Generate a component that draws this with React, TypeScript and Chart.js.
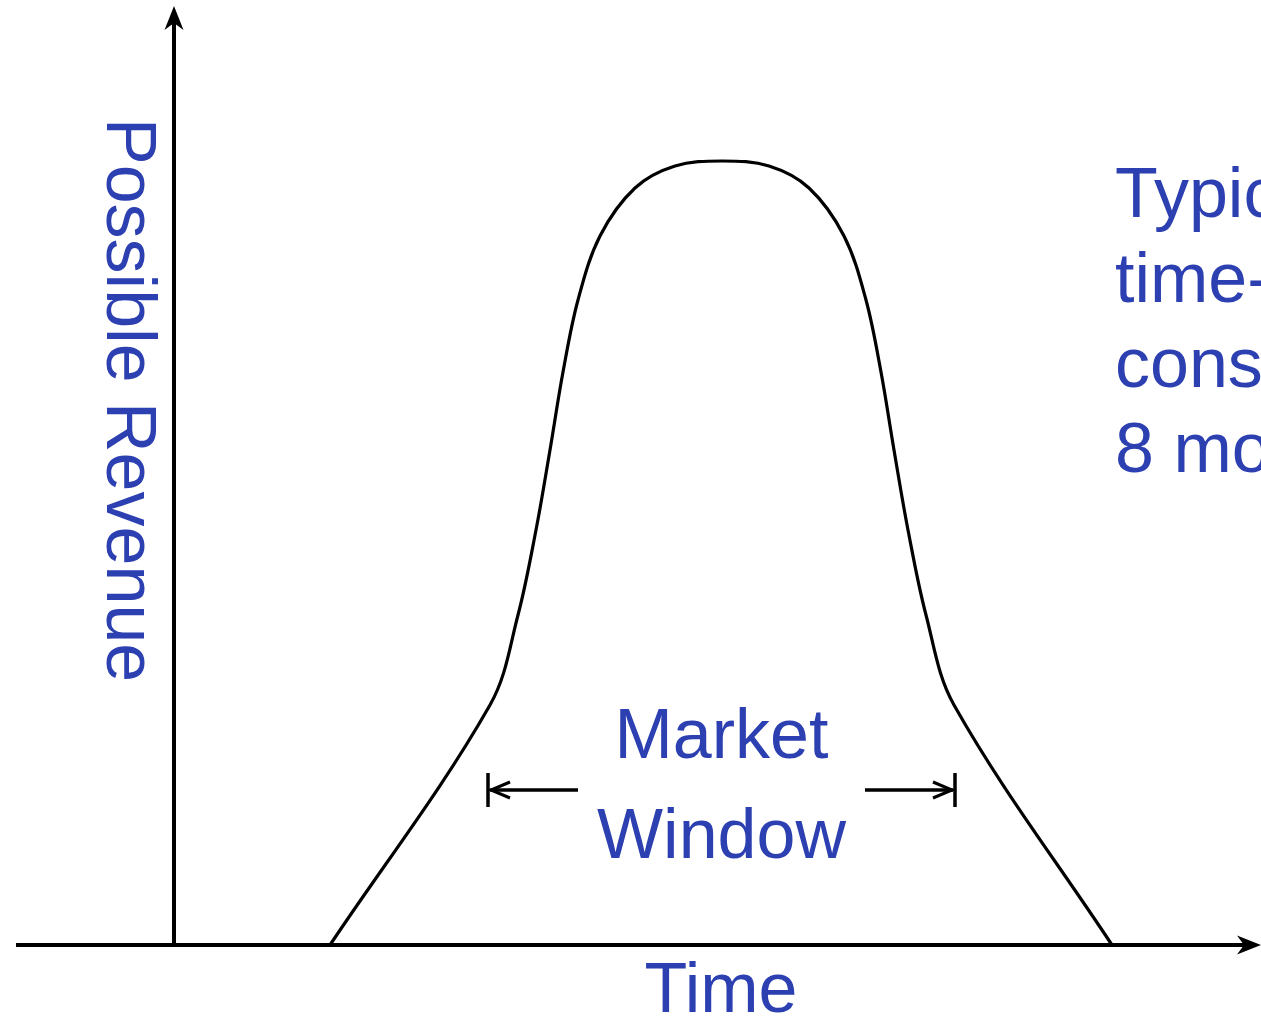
import React, { useEffect, useRef } from "react";
import { Chart, registerables } from "chart.js";

Chart.register(...registerables);

// Curve: time (arbitrary units) vs possible revenue (arbitrary units)
const timeValues = [
  15.6, 31.6, 34.4, 36.2, 37.6, 38.9, 40.4, 42.6, 46.1, 50.1,
  54.8,
  59.5, 63.5, 67.0, 69.2, 70.7, 72.0, 73.4, 75.2, 78.0, 93.8,
];
const revenueValues = [
  0, 24.0, 33.0, 41.5, 49.5, 57.3, 64.5, 70.9, 75.7, 77.9,
  78.4,
  77.9, 75.7, 70.9, 64.5, 57.3, 49.5, 41.5, 33.0, 24.0, 0,
];

// Axis extents (data units)
const timeRange = [-17.4, 108.7];
const revenueRange = [-7.2, 94.5];
const timeAxisLine = [-15.8, 108.7];
const revenueAxisTop = 93.9;

// Market window marker (data units)
const windowBounds = [31.4, 78.1];
const windowInner = [40.4, 69.1];
const windowLevel = 15.5;

// Labels
const yAxisLabel = "Possible Revenue";
const xAxisLabel = "Time";
const windowLabel = ["Market", "Window"];
const noteLines = ["Typical", "time-to-market", "constraint is", "8 months"];

const TEXT_COLOR = "#2c40b1";
const FONT = '70px "Liberation Sans", Arial, sans-serif';

const overlayPlugin = {
  id: "diagramOverlay",
  afterDatasetsDraw(chart: any) {
    const ctx = chart.ctx as CanvasRenderingContext2D;
    const xs = chart.scales.x;
    const ys = chart.scales.y;
    const px = (v: number) => xs.getPixelForValue(v);
    const py = (v: number) => ys.getPixelForValue(v);
    const x0 = px(0);
    const y0 = py(0);

    ctx.save();
    ctx.strokeStyle = "#000";
    ctx.fillStyle = "#000";
    ctx.lineWidth = 4;
    ctx.lineCap = "butt";

    // x axis
    const xEnd = px(timeAxisLine[1]);
    ctx.beginPath();
    ctx.moveTo(px(timeAxisLine[0]), y0);
    ctx.lineTo(xEnd - 8, y0);
    ctx.stroke();
    ctx.beginPath();
    ctx.moveTo(xEnd, y0);
    ctx.lineTo(xEnd - 24, y0 - 9.5);
    ctx.lineTo(xEnd - 17, y0);
    ctx.lineTo(xEnd - 24, y0 + 9.5);
    ctx.closePath();
    ctx.fill();

    // y axis
    const yTop = py(revenueAxisTop);
    ctx.beginPath();
    ctx.moveTo(x0, y0);
    ctx.lineTo(x0, yTop + 8);
    ctx.stroke();
    ctx.beginPath();
    ctx.moveTo(x0, yTop);
    ctx.lineTo(x0 - 9.5, yTop + 24);
    ctx.lineTo(x0, yTop + 17);
    ctx.lineTo(x0 + 9.5, yTop + 24);
    ctx.closePath();
    ctx.fill();

    // market window arrows
    const wy = py(windowLevel);
    const lb = px(windowBounds[0]);
    const rb = px(windowBounds[1]);
    const li = px(windowInner[0]);
    const ri = px(windowInner[1]);
    ctx.lineWidth = 3.5;
    ctx.beginPath();
    ctx.moveTo(lb, wy - 17);
    ctx.lineTo(lb, wy + 17);
    ctx.moveTo(rb, wy - 17);
    ctx.lineTo(rb, wy + 17);
    ctx.moveTo(lb + 2, wy);
    ctx.lineTo(li, wy);
    ctx.moveTo(rb - 2, wy);
    ctx.lineTo(ri, wy);
    ctx.stroke();
    ctx.lineWidth = 3;
    ctx.beginPath();
    ctx.moveTo(lb + 22, wy - 8);
    ctx.lineTo(lb + 3, wy);
    ctx.lineTo(lb + 22, wy + 8);
    ctx.moveTo(rb - 22, wy - 8);
    ctx.lineTo(rb - 3, wy);
    ctx.lineTo(rb - 22, wy + 8);
    ctx.stroke();

    // texts
    ctx.fillStyle = TEXT_COLOR;
    ctx.font = FONT;
    ctx.textBaseline = "alphabetic";
    ctx.textAlign = "center";
    const cx = (lb + rb) / 2;
    ctx.fillText(windowLabel[0], cx, 758);
    ctx.fillText(windowLabel[1], cx, 858);
    ctx.fillText(xAxisLabel, 721, 1012);

    ctx.textAlign = "left";
    noteLines.forEach((line, i) => {
      ctx.fillText(line, 1115, 217 + i * 85);
    });

    ctx.save();
    ctx.translate(107, 118);
    ctx.rotate(Math.PI / 2);
    ctx.textAlign = "left";
    ctx.fillText(yAxisLabel, 0, 0);
    ctx.restore();

    ctx.restore();
  },
};

export default function App() {
  const canvasRef = useRef<HTMLCanvasElement | null>(null);

  useEffect(() => {
    if (!canvasRef.current) return;
    const chart = new Chart(canvasRef.current, {
      type: "line",
      data: {
        datasets: [
          {
            data: timeValues.map((t, i) => ({ x: t, y: revenueValues[i] })),
            borderColor: "#000",
            borderWidth: 3.2,
            pointRadius: 0,
            fill: false,
            tension: 0.35,
          },
        ],
      },
      options: {
        responsive: false,
        animation: false,
        layout: { padding: 0 },
        plugins: {
          legend: { display: false },
          tooltip: { enabled: false },
          title: { display: false },
        },
        scales: {
          x: { type: "linear", min: timeRange[0], max: timeRange[1], display: false },
          y: { type: "linear", min: revenueRange[0], max: revenueRange[1], display: false },
        },
      },
      plugins: [overlayPlugin],
    });
    return () => chart.destroy();
  }, []);

  return (
    <div style={{ position: "absolute", left: 0, top: 0, width: 1261, height: 1017, background: "#fff", overflow: "hidden" }}>
      <canvas ref={canvasRef} width={1261} height={1017} style={{ width: 1261, height: 1017, display: "block" }} />
    </div>
  );
}
